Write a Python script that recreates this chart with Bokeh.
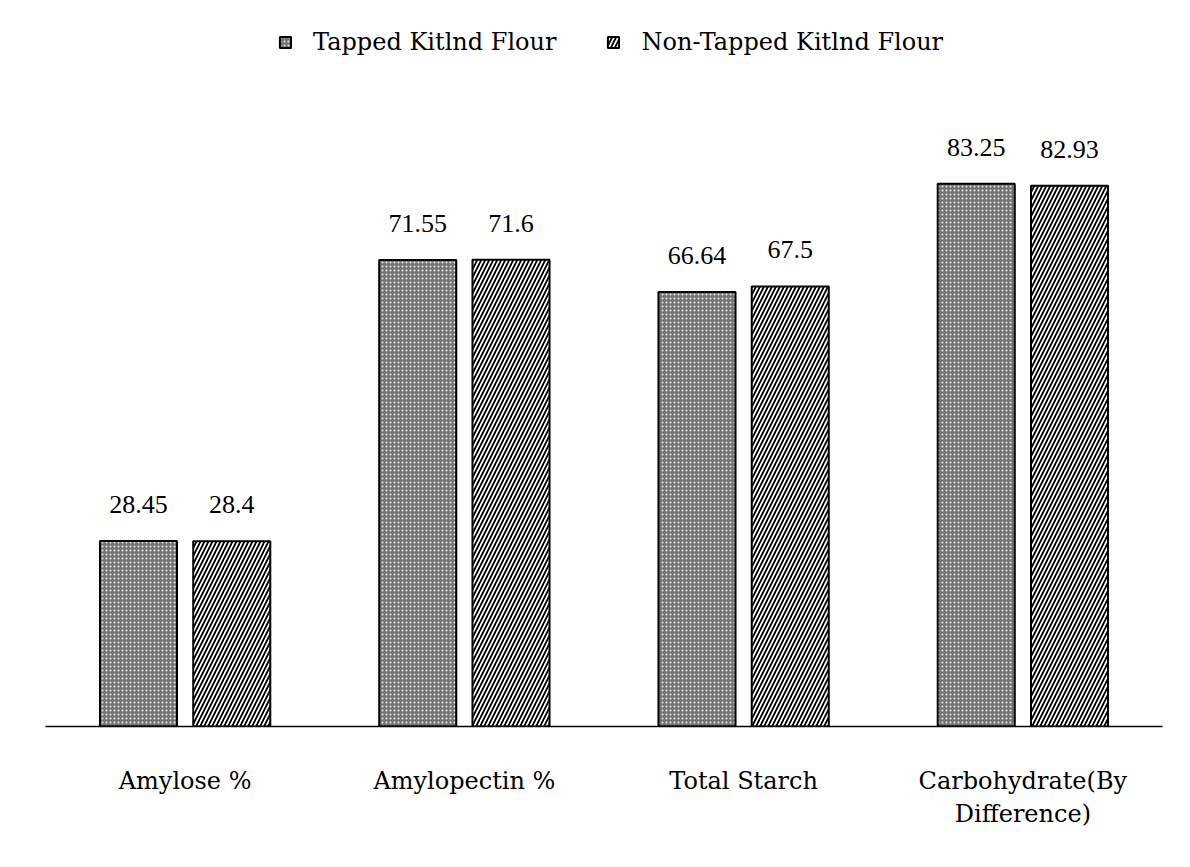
from bokeh.plotting import figure
from bokeh.models import ColumnDataSource, FactorRange, LabelSet, Legend, LegendItem, Range1d
from bokeh.transform import dodge
from bokeh.embed import file_html
from bokeh.resources import INLINE

categories = ["Amylose %", "Amylopectin %", "Total Starch", "Carbohydrate(By\nDifference)"]
tapped = [28.45, 71.55, 66.64, 83.25]
non_tapped = [28.4, 71.6, 67.5, 82.93]
series_names = ["Tapped Kitlnd Flour", "Non-Tapped Kitlnd Flour"]

FONT = "DejaVu Serif"

src = ColumnDataSource(dict(
    cat=categories,
    tapped=tapped,
    non_tapped=non_tapped,
    tapped_lbl=[str(v) for v in tapped],
    non_tapped_lbl=[str(v) for v in non_tapped],
))

p = figure(
    x_range=FactorRange(*categories, range_padding=0),
    y_range=Range1d(0, 108.6),
    width=1174, height=851,
    output_backend="svg", toolbar_location=None,
    min_border_left=45, min_border_right=12, min_border_top=18, min_border_bottom=125,
)
p.background_fill_color = "white"
p.border_fill_color = "white"
p.outline_line_color = None
p.xgrid.visible = False
p.ygrid.visible = False
p.yaxis.visible = False

r1 = p.vbar(x=dodge("cat", -0.167, range=p.x_range), top="tapped", width=0.276, source=src,
            fill_color="#747474", line_color="black", line_width=2,
            hatch_pattern="dot", hatch_color="#e6e6e6", hatch_scale=4, hatch_weight=1.2)
r2 = p.vbar(x=dodge("cat", 0.167, range=p.x_range), top="non_tapped", width=0.276, source=src,
            fill_color="white", line_color="black", line_width=2,
            hatch_pattern="right_diagonal_line", hatch_color="black", hatch_scale=8, hatch_weight=1.8)

for xoff, col in [(-0.167, "tapped"), (0.167, "non_tapped")]:
    lbl = LabelSet(x=dodge("cat", xoff, range=p.x_range), y=col, text=col + "_lbl", source=src,
                   y_offset=28, text_align="center", text_baseline="alphabetic",
                   text_font=FONT, text_font_size="26px", text_color="black")
    p.add_layout(lbl)

ax = p.xaxis[0]
ax.axis_line_color = "black"
ax.axis_line_width = 1.5
ax.major_tick_line_color = None
ax.minor_tick_line_color = None
ax.major_label_standoff = 34
ax.major_label_text_font = FONT
ax.major_label_text_font_size = "24px"
ax.major_label_text_color = "black"

legend = Legend(items=[LegendItem(label=series_names[0], renderers=[r1]),
                       LegendItem(label=series_names[1], renderers=[r2])],
                location=(233, 670), orientation="horizontal")
legend.label_text_font = FONT
legend.label_text_font_size = "24px"
legend.label_text_color = "black"
legend.glyph_width = 14
legend.glyph_height = 14
legend.label_standoff = 21
legend.spacing = 50
legend.padding = 0
legend.margin = 0
legend.border_line_color = None
legend.background_fill_alpha = 0
p.add_layout(legend)

open("out.html", "w").write(file_html(p, INLINE))
